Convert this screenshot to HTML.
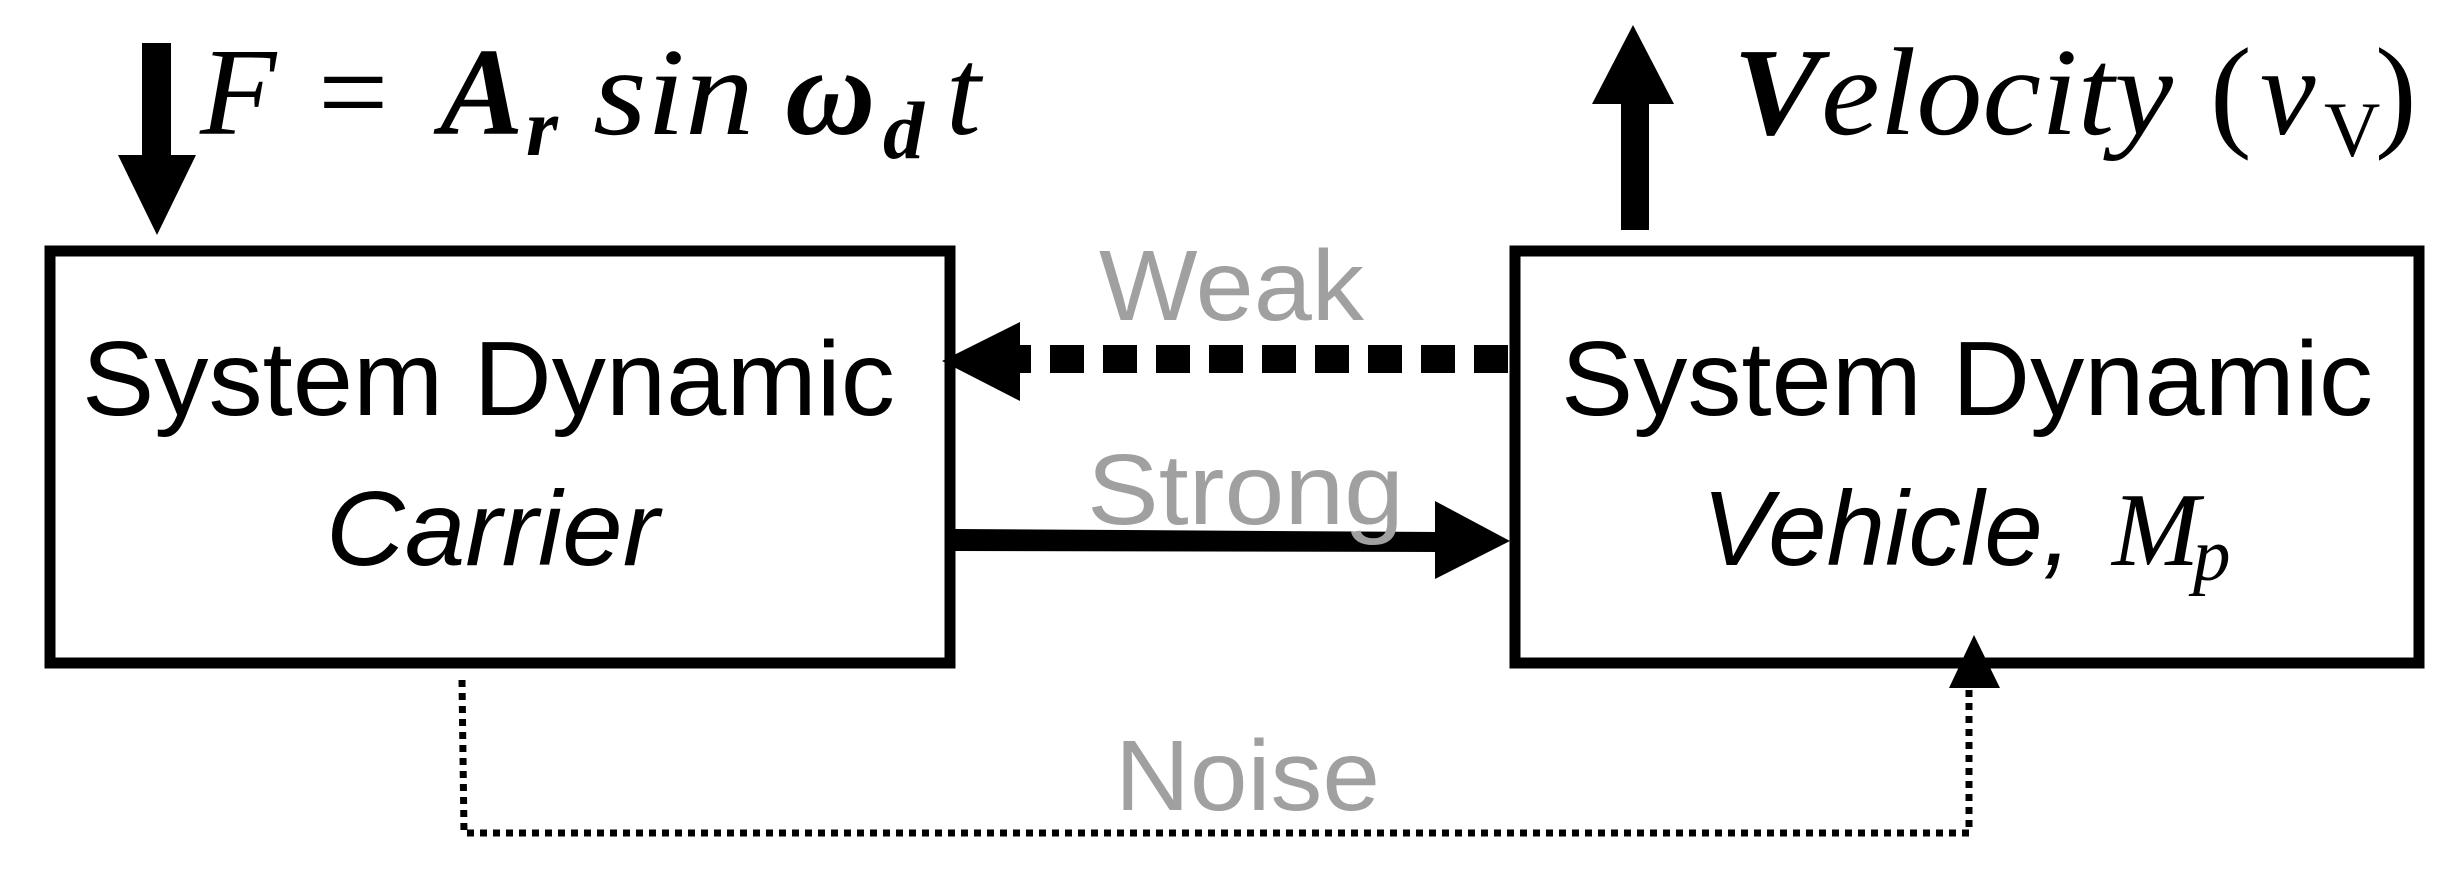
<!DOCTYPE html>
<html><head><style>html,body{margin:0;padding:0;background:#fff;}svg{display:block}</style></head>
<body>
<svg width="2463" height="873" viewBox="0 0 2463 873" xmlns="http://www.w3.org/2000/svg">
<rect x="0" y="0" width="2463" height="873" fill="#fff"/>
<!-- boxes -->
<rect x="50" y="251" width="900" height="412" fill="none" stroke="#000" stroke-width="11"/>
<rect x="1515" y="251" width="904" height="412" fill="none" stroke="#000" stroke-width="11"/>
<!-- down arrow -->
<rect x="142" y="43" width="29" height="115" fill="#000"/>
<polygon points="118,155 196,155 157,235" fill="#000"/>
<!-- up arrow -->
<rect x="1621" y="100" width="28" height="130" fill="#000"/>
<polygon points="1592,104 1674,104 1633,25" fill="#000"/>
<!-- weak dashed arrow -->
<line x1="1508" y1="359" x2="1020" y2="359" stroke="#000" stroke-width="28" stroke-dasharray="34,19"/>
<polygon points="942,361 1020,322 1020,401" fill="#000"/>
<!-- strong arrow -->
<polygon points="955,529 1440,532 1440,552 955,551" fill="#000"/>
<polygon points="1435,501 1510,541 1435,579" fill="#000"/>
<!-- noise dotted -->
<polyline points="462,680 464,833 1969,833 1969,688" fill="none" stroke="#000" stroke-width="7" stroke-dasharray="7,6"/>
<polygon points="1949,688 2000,688 1974,635" fill="#000"/>
<!-- text -->
<g font-family="'Liberation Serif', serif" font-size="125" fill="#000" font-style="italic">
<text x="200" y="134">F</text>
<text x="318" y="134" font-style="normal">=</text>
<text x="440" y="134" font-weight="bold">A</text>
<text x="526" y="155" font-size="82" font-weight="bold">r</text>
<text x="593" y="134" textLength="161" lengthAdjust="spacingAndGlyphs">sin</text>
<text x="785" y="134" font-weight="bold">ω</text>
<text x="883" y="158" font-size="82" font-weight="bold">d</text>
<text x="946" y="134">t</text>
<text x="1733" y="134" textLength="440" lengthAdjust="spacingAndGlyphs"><tspan font-weight="bold">V</tspan>elocity</text>
<text x="2210" y="134" font-style="normal">(</text>
<text x="2260" y="134">v</text>
<text x="2324" y="156" font-size="78" font-style="normal">V</text>
<text x="2375" y="134" font-style="normal">)</text>
<text x="2112" y="565" font-size="105">M</text>
<text x="2193" y="580" font-size="75">p</text>
</g>
<g font-family="'Liberation Sans', sans-serif" font-size="106" fill="#000">
<text x="82" y="415" textLength="813" lengthAdjust="spacingAndGlyphs">System Dynamic</text>
<text x="1561" y="415" textLength="812" lengthAdjust="spacingAndGlyphs">System Dynamic</text>
<text x="326" y="565" font-style="italic" textLength="333" lengthAdjust="spacingAndGlyphs">Carrier</text>
<text x="1702" y="565" font-style="italic" textLength="370" lengthAdjust="spacingAndGlyphs">Vehicle,</text>
</g>
<g font-family="'Liberation Sans', sans-serif" font-size="100" fill="#a0a0a0">
<text x="1099" y="320" textLength="265" lengthAdjust="spacingAndGlyphs">Weak</text>
<text x="1087" y="524" textLength="317" lengthAdjust="spacingAndGlyphs">Strong</text>
<text x="1115" y="810" textLength="265" lengthAdjust="spacingAndGlyphs">Noise</text>
</g>
</svg>
</body></html>
